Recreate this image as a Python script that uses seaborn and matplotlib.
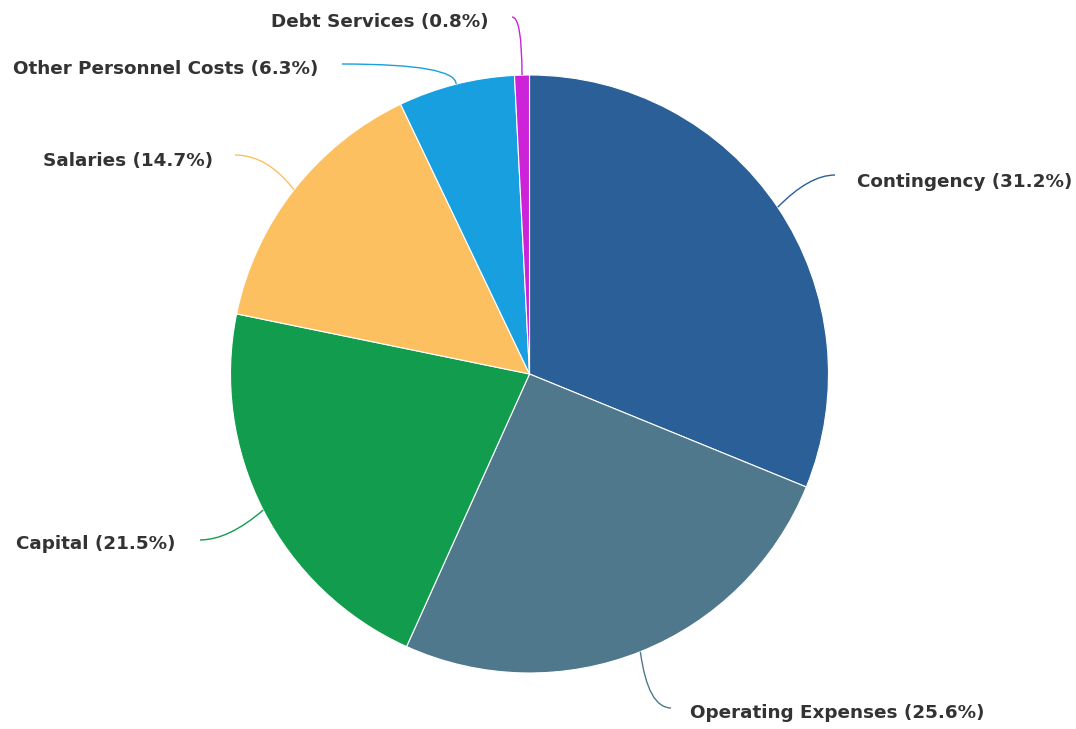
import matplotlib
matplotlib.use("Agg")
import matplotlib.pyplot as plt
import seaborn as sns
import numpy as np
from matplotlib.path import Path
from matplotlib.patches import PathPatch

categories = ["Contingency", "Operating Expenses", "Capital", "Salaries",
              "Other Personnel Costs", "Debt Services"]
shares = [31.2, 25.6, 21.5, 14.7, 6.3, 0.8]
palette_hex = ["#2a5f97", "#50788c", "#129c4e", "#fdc061", "#189fe0", "#cc22d8"]

# layout (pixel coordinates, y from top)
W, H = 1076, 729
CX, CY, R = 529.5, 374, 299
label_pos = [(857, 182, "left"), (690, 713, "left"), (176, 544, "right"),
             (213, 161, "right"), (318, 69, "right"), (489, 22, "right")]
line_end = [(835, 175), (671, 708), (200, 540), (235, 155), (342, 64), (512, 17)]
bend = [0.45, 0.75, 0.45, 0.55, 1.0, 1.0]

sns.set_theme(style="white")
plt.rcParams['font.family'] = ['DejaVu Sans']
colors = sns.color_palette(palette_hex)

fig = plt.figure(figsize=(W / 100, H / 100), dpi=100)
ax = fig.add_axes([0, 0, 1, 1])
wedges, _ = ax.pie(shares, colors=colors, startangle=90, counterclock=False,
                   center=(CX, H - CY), radius=R,
                   wedgeprops=dict(edgecolor="white", linewidth=0.8))
ax.set_xlim(0, W)
ax.set_ylim(0, H)
ax.set_aspect("auto")
ax.axis("off")

for i, w in enumerate(wedges):
    mid = np.deg2rad((w.theta1 + w.theta2) / 2)
    axp = CX + R * np.cos(mid)
    ayp = (H - CY) + R * np.sin(mid)
    ex, ey = line_end[i][0], H - line_end[i][1]
    cx = ex + bend[i] * (axp - ex)
    path = Path([(axp, ayp), (cx, ey), (ex, ey)], [Path.MOVETO, Path.CURVE3, Path.CURVE3])
    ax.add_patch(PathPatch(path, fill=False, edgecolor=colors[i], lw=1.0))
    tx, ty, ha = label_pos[i]
    ax.text(tx, H - ty, f"{categories[i]} ({shares[i]}%)", ha=ha, va="center",
            fontsize=13.2, fontweight="bold", color="#333333")

fig.savefig("out.png", dpi=100, facecolor="white")
